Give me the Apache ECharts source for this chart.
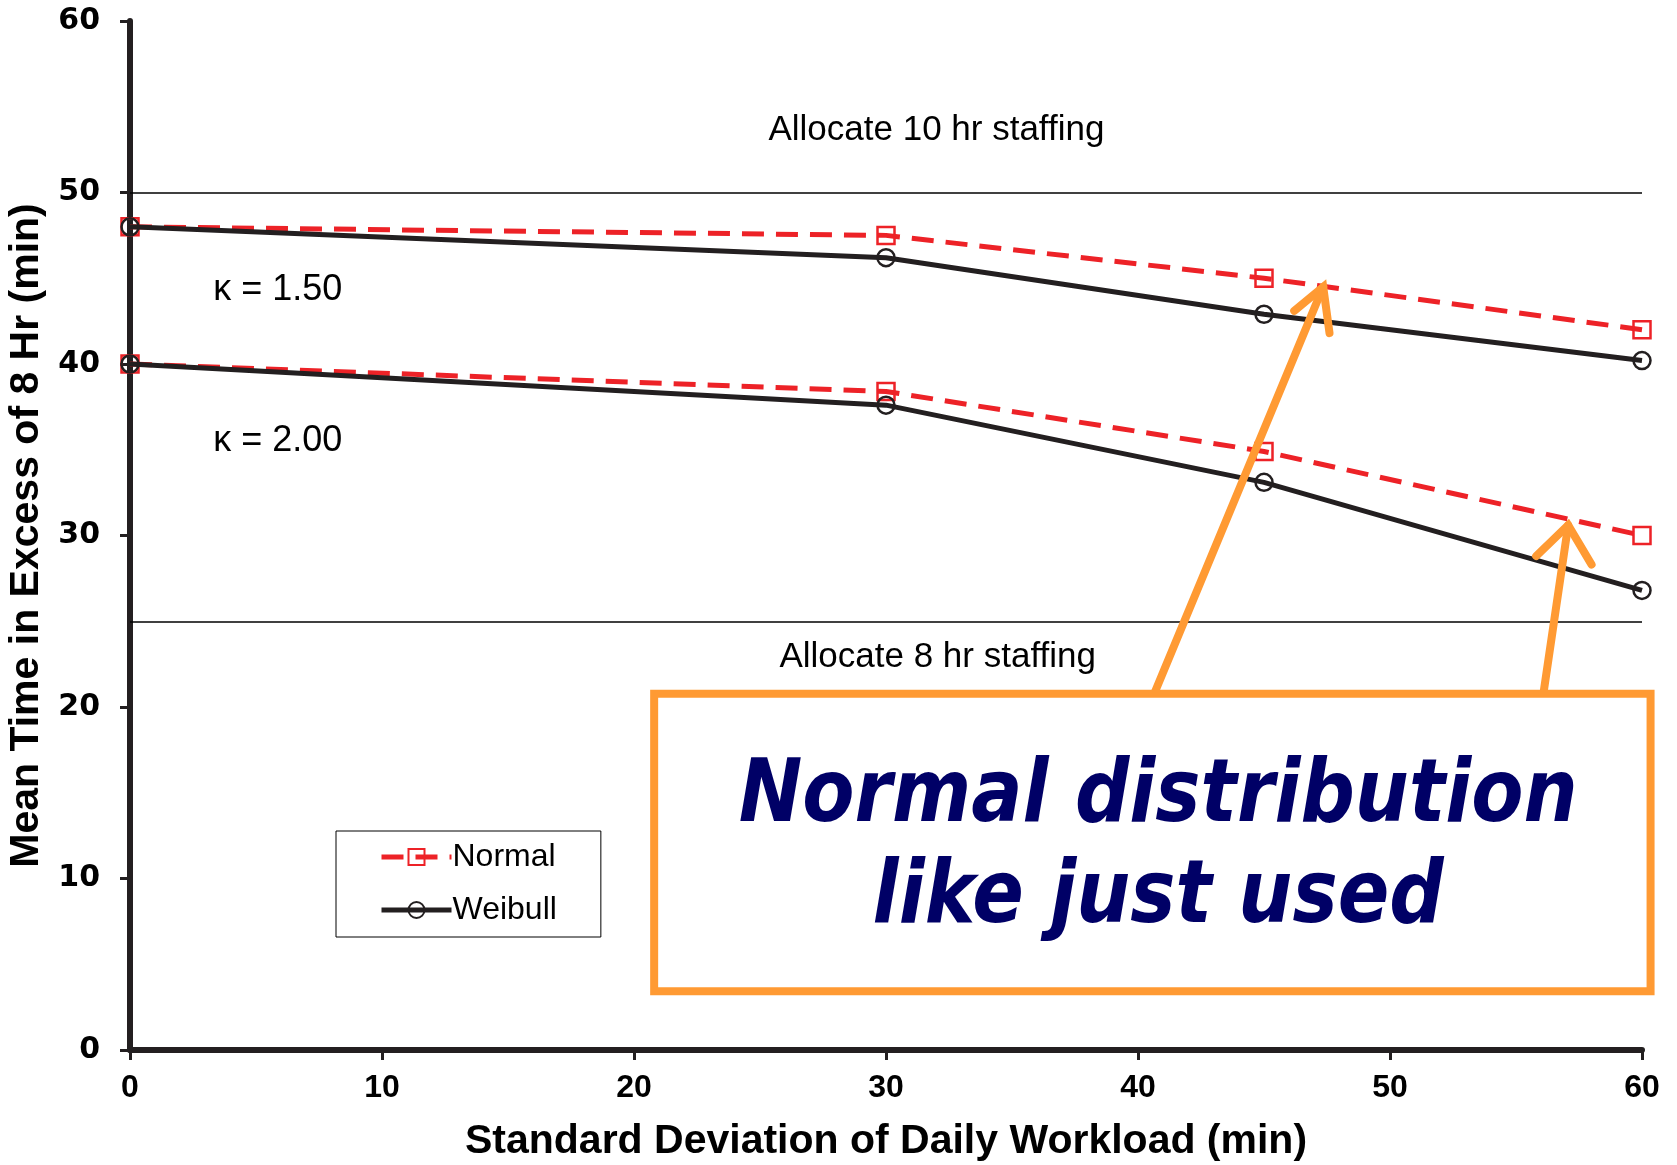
<!DOCTYPE html>
<html>
<head>
<meta charset="utf-8">
<script src="https://cdn.jsdelivr.net/npm/echarts@6/dist/echarts.min.js"></script>
<style>
  html, body { margin: 0; padding: 0; background: #ffffff; }
  #chart { width: 1677px; height: 1165px; }
</style>
</head>
<body>
<div id="chart"></div>
<script>
// ---- data ----
const xValues = [0, 30, 45, 60];
const normalK150 = [48.0, 47.5, 45.0, 42.0];
const weibullK150 = [48.0, 46.2, 42.9, 40.2];
const normalK200 = [40.0, 38.4, 34.9, 30.0];
const weibullK200 = [40.0, 37.6, 33.1, 26.8];
const staffingLevels = [50, 25];
const staffingLabels = ['Allocate 10 hr staffing', 'Allocate 8 hr staffing'];
const kappaLabels = ['\u03BA = 1.50', '\u03BA = 2.00'];
const calloutLines = ['Normal distribution', 'like just used'];
const xAxisTitle = 'Standard Deviation of Daily Workload (min)';
const yAxisTitle = 'Mean Time in Excess of 8 Hr (min)';

const RED = '#ED2227';
const DARK = '#231F20';
const ORANGE = '#FF9A33';
const NAVY = '#000066';
const LIB = "'Liberation Sans', Arial, sans-serif";

function pairs(ys) { return xValues.map((x, i) => [x, ys[i]]); }

const normalStyle = {
  type: 'line', name: 'Normal', symbol: 'rect', symbolSize: 17,
  showAllSymbol: true,
  lineStyle: { color: RED, width: 5, type: [22, 12] },
  itemStyle: { color: 'rgba(255,255,255,0)', borderColor: RED, borderWidth: 2.5 },
  z: 3
};
const weibullStyle = {
  type: 'line', name: 'Weibull', symbol: 'circle', symbolSize: 17,
  showAllSymbol: true,
  lineStyle: { color: DARK, width: 5 },
  itemStyle: { color: 'rgba(255,255,255,0)', borderColor: DARK, borderWidth: 2.5 },
  z: 4
};

const chart = echarts.init(document.getElementById('chart'), null, { renderer: 'canvas' });

chart.setOption({
  animation: false,
  backgroundColor: '#ffffff',
  grid: { left: 130, right: 35, top: 21, bottom: 115, containLabel: false, outerBoundsMode: 'none' },
  xAxis: {
    type: 'value', min: 0, max: 60, interval: 10,
    axisLine: { show: true, lineStyle: { color: DARK, width: 6 } },
    axisTick: { show: true, length: 10, lineStyle: { color: DARK, width: 3 } },
    splitLine: { show: false },
    axisLabel: { margin: 22, color: '#000', fontSize: 32, fontWeight: 'bold', fontFamily: LIB },
    name: xAxisTitle, nameLocation: 'middle', nameGap: 71,
    nameTextStyle: { color: '#000', fontSize: 41, fontWeight: 'bold', fontFamily: LIB }
  },
  yAxis: {
    type: 'value', min: 0, max: 60, interval: 10,
    axisLine: { show: true, lineStyle: { color: DARK, width: 6 } },
    axisTick: { show: true, length: 10, lineStyle: { color: DARK, width: 3 } },
    splitLine: { show: false },
    axisLabel: { margin: 30, color: '#000', fontSize: 30, fontWeight: 'bold',
      fontFamily: "'DejaVu Sans', sans-serif" },
    name: yAxisTitle, nameLocation: 'middle', nameGap: 80, nameRotate: 90,
    nameTextStyle: { color: '#000', fontSize: 41, fontWeight: 'bold', fontFamily: LIB }
  },
  legend: {
    data: ['Normal', 'Weibull'],
    orient: 'vertical',
    left: 336, top: 831,
    padding: [10, 44, 11, 43],
    itemGap: 21,
    itemWidth: 70, itemHeight: 20,
    borderColor: '#000', borderWidth: 1,
    backgroundColor: '#ffffff',
    lineStyle: { width: 5 },
    textStyle: { fontSize: 32, lineHeight: 30, color: '#000',
      fontFamily: LIB, padding: [0, 0, 0, -4] }
  },
  series: [
    Object.assign({}, normalStyle, {
      data: pairs(normalK150),
      markLine: {
        silent: true, symbol: ['none', 'none'], label: { show: false },
        lineStyle: { color: '#000', width: 1.5, type: 'solid' },
        data: staffingLevels.map(v => [{ coord: [0, v] }, { coord: [60, v] }])
      }
    }),
    Object.assign({}, weibullStyle, { data: pairs(weibullK150) }),
    Object.assign({}, normalStyle, { data: pairs(normalK200) }),
    Object.assign({}, weibullStyle, { data: pairs(weibullK200) })
  ]
});

// ---- annotations (positioned in data space) ----
function px(x, y) { return chart.convertToPixel({ gridIndex: 0 }, [x, y]); }

const staffingTextPos = [[32.0, 53.6], [32.05, 22.9]];
const kappaTextPos = [[5.86, 44.3], [5.86, 35.5]];
const calloutBox = { x0: 20.8, y0: 20.77, x1: 60.34, y1: 3.43 };
const calloutTextPos = [[40.8, 14.7], [40.8, 8.8]];
const arrows = [
  { tail: [40.68, 20.9], tip: [47.35, 44.5], w1: [46.2, 43.1], w2: [47.6, 41.8] },
  { tail: [56.1, 20.9], tip: [57.07, 30.6], w1: [55.8, 28.8], w2: [58.0, 28.3] }
];

const graphics = [];
staffingLabels.forEach((t, i) => {
  const p = px(staffingTextPos[i][0], staffingTextPos[i][1]);
  graphics.push({ type: 'text', x: p[0], y: p[1], z: 10,
    style: { text: t, fill: '#000', fontSize: 35, align: 'center', verticalAlign: 'middle',
      fontFamily: LIB } });
});
kappaLabels.forEach((t, i) => {
  const p = px(kappaTextPos[i][0], kappaTextPos[i][1]);
  graphics.push({ type: 'text', x: p[0], y: p[1], z: 10,
    style: { text: t, fill: '#000', fontSize: 36, align: 'center', verticalAlign: 'middle',
      fontFamily: LIB } });
});
arrows.forEach(a => {
  const t0 = px(a.tail[0], a.tail[1]), t1 = px(a.tip[0], a.tip[1]);
  const w1 = px(a.w1[0], a.w1[1]), w2 = px(a.w2[0], a.w2[1]);
  graphics.push({ type: 'polyline', z: 20, shape: { points: [t0, t1] },
    style: { stroke: ORANGE, lineWidth: 8, lineCap: 'round', fill: null } });
  graphics.push({ type: 'polyline', z: 20, shape: { points: [w1, t1, w2] },
    style: { stroke: ORANGE, lineWidth: 8, lineCap: 'round', lineJoin: 'miter', fill: null } });
});
(function () {
  const a = px(calloutBox.x0, calloutBox.y0), b = px(calloutBox.x1, calloutBox.y1);
  graphics.push({ type: 'rect', z: 21,
    shape: { x: a[0], y: a[1], width: b[0] - a[0], height: b[1] - a[1] },
    style: { fill: '#ffffff', stroke: ORANGE, lineWidth: 8 } });
})();
calloutLines.forEach((t, i) => {
  const p = px(calloutTextPos[i][0], calloutTextPos[i][1]);
  graphics.push({ type: 'text', x: p[0], y: p[1], z: 22, scaleX: 0.96,
    style: { text: t, fill: NAVY, fontSize: 88, fontWeight: 'bold', fontStyle: 'italic',
      align: 'center', verticalAlign: 'middle',
      fontFamily: "'DejaVu Sans Condensed', 'DejaVu Sans', sans-serif" } });
});

chart.setOption({ graphic: graphics });
</script>
</body>
</html>
